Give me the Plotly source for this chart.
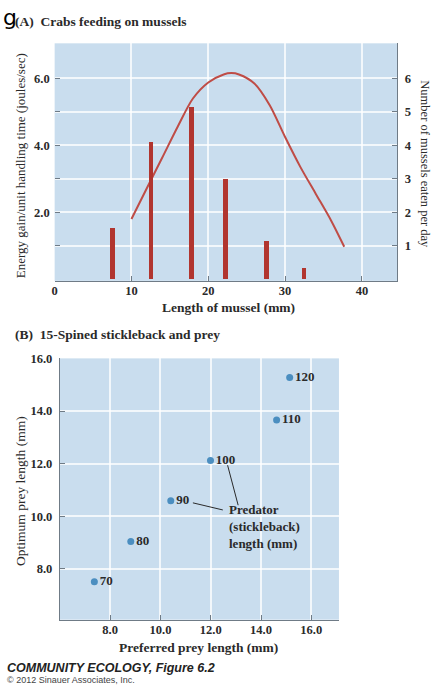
import plotly.graph_objects as go

# ---- Panel A: crabs feeding on mussels ----
mussel_length_class = [7.5, 12.5, 17.8, 22.2, 27.5, 32.4]      # mm (bar centres)
mussels_eaten_per_day = [1.52, 4.1, 5.13, 3.0, 1.12, 0.33]
curve_length = [10, 12, 14, 16, 18, 20, 22, 23, 24, 26, 28, 30, 32, 34, 36, 37.7]
energy_gain = [1.8, 2.72, 3.63, 4.55, 5.4, 5.88, 6.12, 6.16, 6.12, 5.85, 5.2,
               4.25, 3.35, 2.55, 1.75, 0.97]                   # joules/sec

length_ticks = [0, 10, 20, 30, 40]
energy_ticks = [1, 2, 3, 4, 5, 6]
energy_ticktext = ["", "2.0", "", "4.0", "", "6.0"]
count_ticks = [1, 2, 3, 4, 5, 6]

# ---- Panel B: 15-spined stickleback and prey ----
preferred_prey = [7.37, 8.82, 10.41, 11.99, 14.62, 15.14]      # mm
optimum_prey = [7.51, 9.04, 10.59, 12.12, 13.66, 15.27]        # mm
predator_length = [70, 80, 90, 100, 110, 120]                  # mm
prey_ticks = [8, 10, 12, 14, 16]
prey_ticktext = ["8.0", "10.0", "12.0", "14.0", "16.0"]

W, H = 432, 686
SERIF = "Liberation Serif"
BG = "#c9ddee"
GRID = "rgba(255,255,255,0.75)"
AXIS = "#6f7b86"
RED = "#b1352f"
BLUE = "#4b8ec0"
INK = "#2a2a2a"


def px_x(px):
    return px / W


def px_y(py):
    return 1 - py / H


fig = go.Figure()

fig.add_trace(go.Bar(
    x=mussel_length_class, y=mussels_eaten_per_day, width=0.62,
    marker=dict(color=RED, line=dict(width=0)),
    xaxis="x", yaxis="y2", showlegend=False,
))
fig.add_trace(go.Scatter(
    x=curve_length, y=energy_gain, mode="lines",
    line=dict(color="#bf4c46", width=2, shape="spline", smoothing=0.8),
    xaxis="x", yaxis="y", showlegend=False,
))
fig.add_trace(go.Scatter(
    x=preferred_prey, y=optimum_prey, mode="markers+text",
    text=[str(v) for v in predator_length], textposition="middle right",
    textfont=dict(family=SERIF, size=13, color=INK, weight="bold"),
    marker=dict(color=BLUE, size=7),
    xaxis="x2", yaxis="y3", showlegend=False, cliponaxis=False,
))

tickfont = dict(family=SERIF, size=12.5, color=INK, weight="bold")
common = dict(showgrid=True, gridcolor=GRID, gridwidth=1.5, zeroline=False,
              ticks="inside", ticklen=5, tickcolor=AXIS, tickfont=tickfont,
              linecolor=AXIS, linewidth=1.2, fixedrange=True)

top_range = [-0.05, 7.05]

fig.update_layout(
    width=W, height=H,
    margin=dict(l=0, r=0, t=0, b=0),
    paper_bgcolor="white", plot_bgcolor=BG,
    bargap=0,
    xaxis=dict(domain=[px_x(52), px_x(397)], range=[0, 44.6], anchor="y",
               tickvals=length_ticks, ticktext=[str(v) for v in length_ticks],
               showline=True, mirror=False, ticklabelstandoff=-2, **common),
    yaxis=dict(domain=[px_y(276.7), px_y(36.7)], range=top_range, anchor="x",
               tickvals=energy_ticks, ticktext=energy_ticktext,
               showline=False, ticklabelstandoff=4, **common),
    yaxis2=dict(overlaying="y", side="right", anchor="x", range=top_range,
                tickvals=count_ticks, ticktext=[str(v) for v in count_ticks],
                showline=True, ticklabelstandoff=4,
                **{k: v for k, v in common.items() if k != "showgrid"},
                showgrid=False),
    xaxis2=dict(domain=[px_x(57.3), px_x(338.3)], range=[6, 17.1], anchor="y3",
                tickvals=prey_ticks, ticktext=prey_ticktext,
                showline=True, ticklabelstandoff=-2, **common),
    yaxis3=dict(domain=[px_y(619), px_y(355)], range=[6.07, 16], anchor="x2",
                tickvals=prey_ticks, ticktext=prey_ticktext,
                showline=True, ticklabelstandoff=4, **common),
)

# leader lines from the point labels to the predator-length note
fig.add_shape(type="line", xref="x2", yref="y3", x0=11.29, y0=10.51, x1=12.48, y1=10.24,
              line=dict(color=INK, width=1))
fig.add_shape(type="line", xref="x2", yref="y3", x0=12.67, y0=11.94, x1=13.09, y1=10.42,
              line=dict(color=INK, width=1))


def note(text, x, y, size=12.5, weight="normal", xanchor="center", yanchor="middle",
         angle=0, family=SERIF, color=INK, style="normal", align="center"):
    fig.add_annotation(text=text, x=px_x(x), y=px_y(y), xref="paper", yref="paper",
                       showarrow=False, xanchor=xanchor, yanchor=yanchor,
                       textangle=angle, align=align,
                       font=dict(family=family, size=size, color=color,
                                 weight=weight, style=style))


note("g", -2, -4, size=22, family="DejaVu Sans", color="black",
     xanchor="left", yanchor="top")
note("(A)  Crabs feeding on mussels", 10, 15, size=13.5, weight="bold", xanchor="left")
note("Length of mussel (mm)", 227, 304, size=13.5, weight="bold")
note("Energy gain/unit handling time (joules/sec)", 17, 160, size=13, angle=-90)
note("Number of mussels eaten per day", 425, 159, size=12.5, angle=90)

note("(B)  15-Spined stickleback and prey", 10, 331, size=13.5, weight="bold", xanchor="left")
note("Optimum prey length (mm)", 17, 489, size=13.5, angle=-90)
note("Preferred prey length (mm)", 197, 647, size=13.5, weight="bold")
note("Predator<br>(stickleback)<br>length (mm)", 226, 525, size=13, weight="bold",
     xanchor="left", align="left")

note("COMMUNITY ECOLOGY, Figure 6.2", 2, 668, size=12.5, family="Liberation Sans",
     weight="bold", style="italic", xanchor="left", color="#222222")
note("© 2012 Sinauer Associates, Inc.", 2, 680, size=9, family="Liberation Sans",
     xanchor="left", color="#444444")

fig.write_html("out.html", config={"displayModeBar": False})
